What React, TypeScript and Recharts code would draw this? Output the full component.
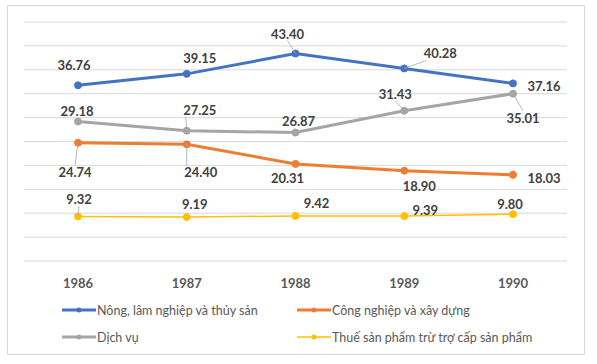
import React from 'react';
import { LineChart, Line, XAxis, YAxis, CartesianGrid } from 'recharts';

// Dữ liệu cơ cấu GDP (%) 1986–1990
const years = ['1986', '1987', '1988', '1989', '1990'];
const nongLamThuy = [36.76, 39.15, 43.4, 40.28, 37.16];
const congNghiep = [24.74, 24.4, 20.31, 18.9, 18.03];
const dichVu = [29.18, 27.25, 26.87, 31.43, 35.01];
const thueSanPham = [9.32, 9.19, 9.42, 9.39, 9.8];
const yTicks = [0, 5, 10, 15, 20, 25, 30, 35, 40, 45, 50];

// Vị trí nhãn (lệch so với điểm) — chỉ là bố cục
const OFF_BLUE = [[-4, -20], [13, -16], [-8, -20], [36, -15], [31, 3]];
const OFF_GRAY = [[-1, -11], [13, -21], [3, -12], [-9, -17], [10, 24]];
const OFF_ORANGE = [[-3, 29], [14, 28], [-8, 14], [15, 15], [31, 3]];
const OFF_YELLOW = [[1, -17], [8, -13], [21, -13], [21, -6], [-3, -10]];
const LEADER_BLUE = [false, false, true, true, false];
const LEADER_GRAY = [false, true, false, true, true];
const LEADER_ORANGE = [true, true, false, false, false];
const LEADER_YELLOW = [true, false, false, false, false];

const data = years.map((y, i) => ({
  year: y,
  nong: nongLamThuy[i],
  cong: congNghiep[i],
  dv: dichVu[i],
  thue: thueSanPham[i],
}));

const SERIES = [
  { key: 'nong', name: 'Nông, lâm nghiệp và thủy sản', color: '#4472C4', width: 3, off: OFF_BLUE, leader: LEADER_BLUE },
  { key: 'cong', name: 'Công nghiệp và xây dựng', color: '#ED7D31', width: 3, off: OFF_ORANGE, leader: LEADER_ORANGE },
  { key: 'dv', name: 'Dịch vụ', color: '#A5A5A5', width: 3, off: OFF_GRAY, leader: LEADER_GRAY },
  { key: 'thue', name: 'Thuế sản phẩm trừ trợ cấp sản phẩm', color: '#FFC000', width: 1.5, off: OFF_YELLOW, leader: LEADER_YELLOW },
];

const FONT = 'Lato, "Open Sans", sans-serif';

function makeLabel(off: number[][], leader: boolean[]) {
  return (props: any) => {
    const { x, y, value, index } = props;
    const [dx, dy] = off[index];
    const lx = x + dx;
    const ly = y + dy;
    // đầu đường dẫn phía nhãn
    const ey = dy < 0 ? ly + 7 : ly - 7;
    const ex = Math.abs(dx) > 12 ? lx - Math.sign(dx) * 14 : lx;
    return (
      <g key={`l-${index}`}>
        {leader[index] && (
          <line x1={x} y1={y} x2={ex} y2={ey} stroke="#A6A6A6" strokeWidth={0.8} />
        )}
        <text
          x={lx}
          y={ly}
          textAnchor="middle"
          dominantBaseline="central"
          fontFamily={FONT}
          fontWeight="bold"
          fontSize={13}
          fill="#404040"
        >
          {Number(value).toFixed(2)}
        </text>
      </g>
    );
  };
}

export default function App() {
  return (
    <div style={{ position: 'absolute', left: 0, top: 0, width: 597, height: 364, background: '#fff' }}>
      <div
        style={{
          position: 'absolute', left: 7, top: 5, width: 578, height: 350,
          border: '1px solid #D9D9D9', boxSizing: 'border-box',
        }}
      />
      <div style={{ position: 'absolute', left: 0, top: 0 }}>
        <LineChart width={597} height={364} data={data} margin={{ top: 22, right: 30, left: 24, bottom: 73 }}>
          <CartesianGrid vertical={false} stroke="#D9D9D9" />
          <XAxis
            dataKey="year"
            axisLine={false}
            tickLine={false}
            height={30}
            padding={{ left: 54, right: 54 }}
            tickMargin={12}
            tick={{ fill: '#595959', fontSize: 13, fontWeight: 'bold', fontFamily: FONT }}
          />
          <YAxis hide domain={[0, 50]} ticks={yTicks} />
          {SERIES.map((s) => (
            <Line
              key={s.key}
              dataKey={s.key}
              name={s.name}
              stroke={s.color}
              strokeWidth={s.width}
              dot={{ r: 3.5, fill: s.color, stroke: s.color, strokeWidth: 1 }}
              activeDot={false}
              isAnimationActive={false}
              label={makeLabel(s.off, s.leader)}
            />
          ))}
        </LineChart>
      </div>
      {/* Chú giải */}
      <div
        style={{
          position: 'absolute', left: 62, top: 300, width: 500,
          display: 'grid', gridTemplateColumns: '235px 265px', rowGap: 7,
          fontFamily: FONT, fontSize: 12.5, color: '#595959',
        }}
      >
        {SERIES.map((s) => (
          <div key={s.key} style={{ display: 'flex', alignItems: 'center', height: 20 }}>
            <svg width={34} height={10} style={{ marginRight: 1 }}>
              <line x1={0} y1={5} x2={34} y2={5} stroke={s.color} strokeWidth={s.width} />
              <circle cx={17} cy={5} r={2.5} fill={s.color} />
            </svg>
            <span>{s.name}</span>
          </div>
        ))}
      </div>
    </div>
  );
}
